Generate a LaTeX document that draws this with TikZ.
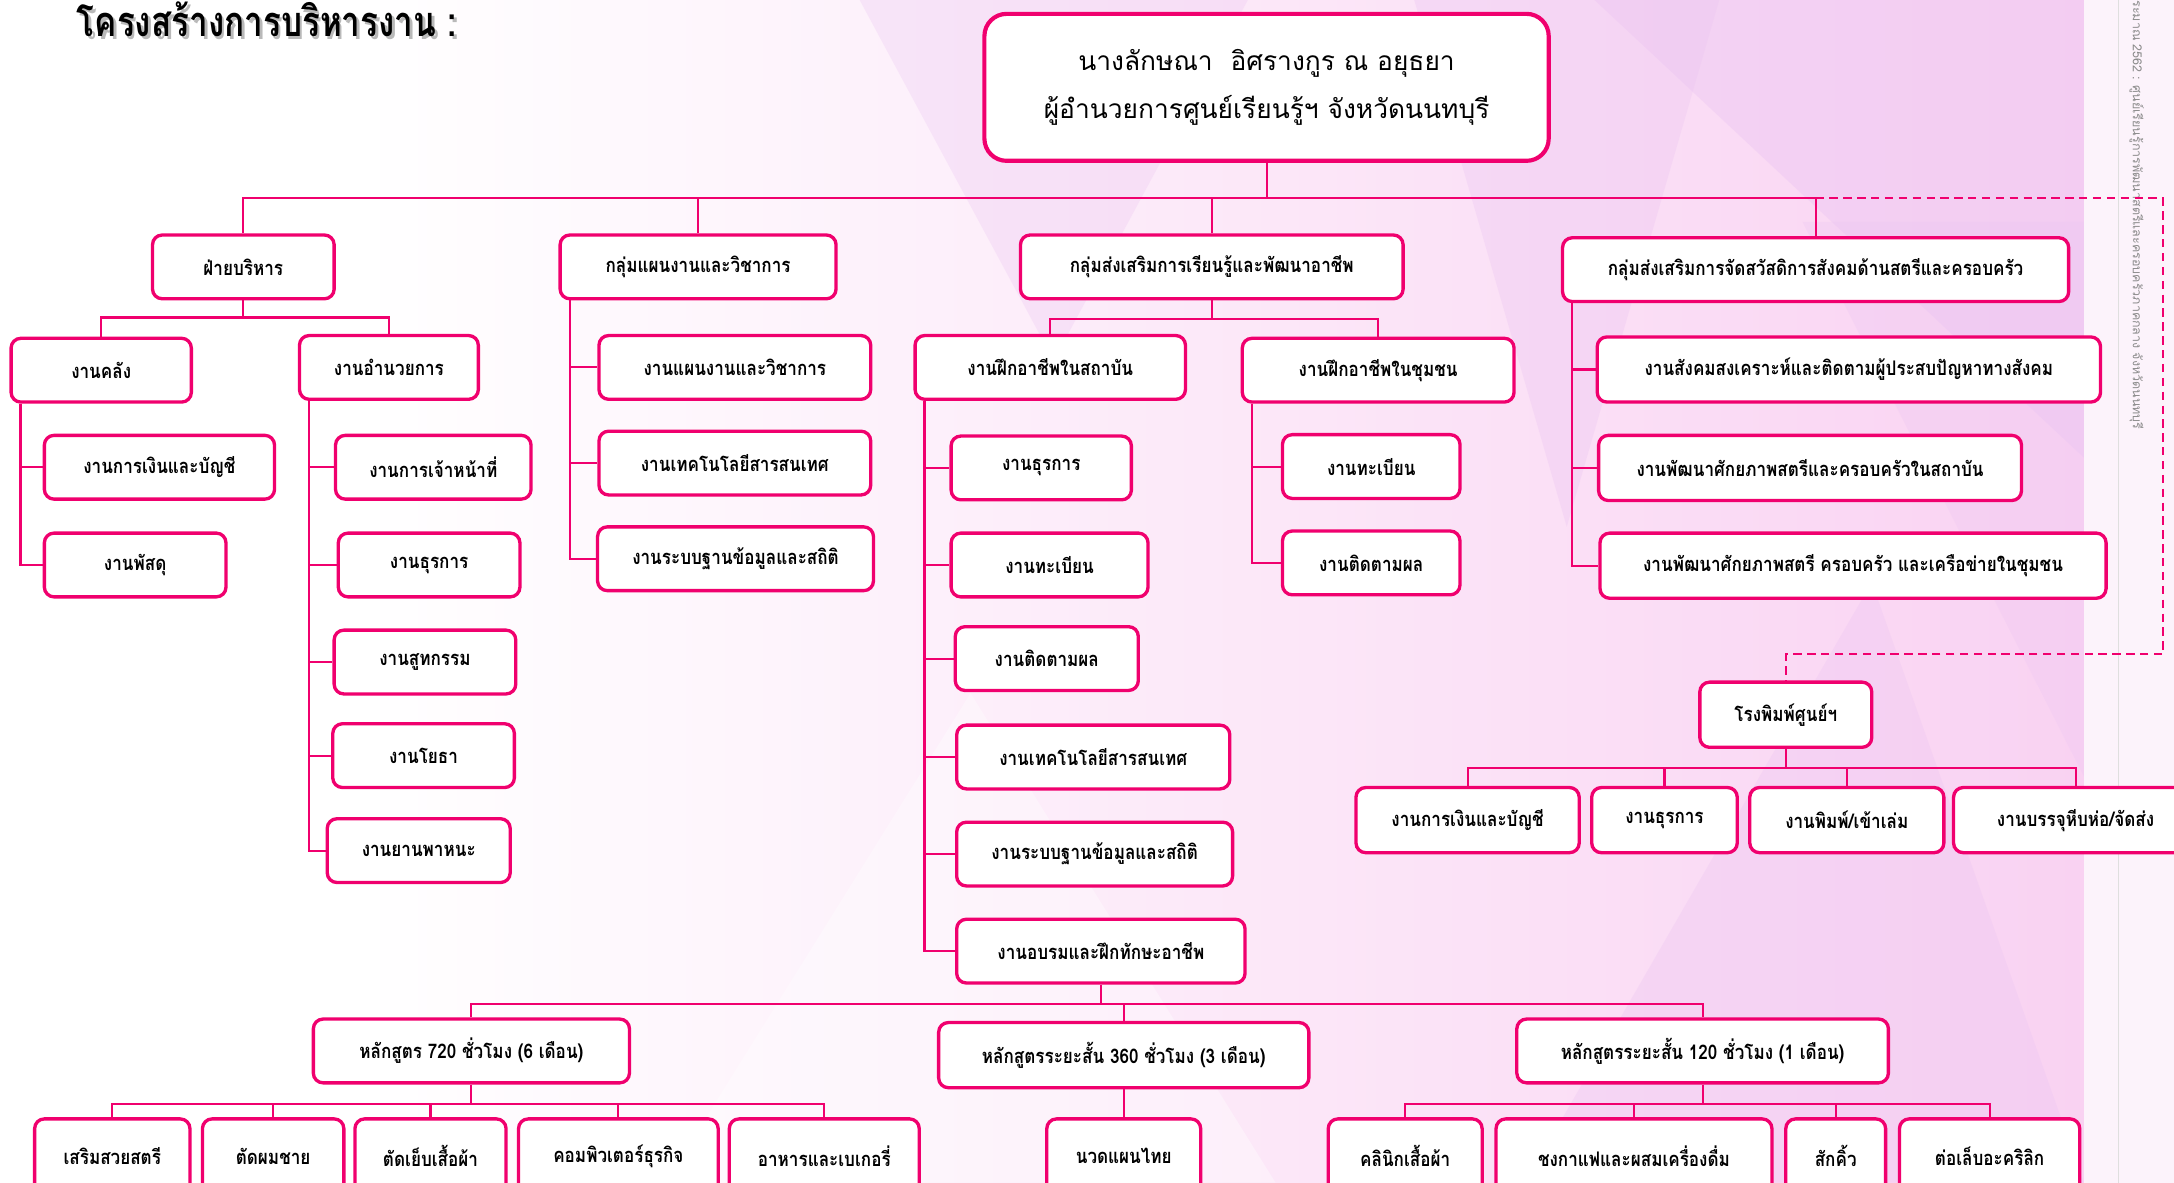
\documentclass[tikz,border=0pt]{standalone}
\usepackage{fontspec}
\setmainfont{Loma}[Script=Thai]
\newfontfamily\thaifont[Script=Thai]{Loma}
\newfontfamily\thaicond[Script=Thai,FakeStretch=0.85]{Loma}
\newfontfamily\thaititle[Script=Thai,FakeStretch=0.8]{Loma}
\usetikzlibrary{positioning}
\usepackage{xcolor}
\definecolor{orgpink}{RGB}{240,0,110}
\definecolor{bgpink}{RGB}{249,210,242}
\definecolor{bglilac}{RGB}{236,198,242}
\definecolor{marginpink}{RGB}{252,243,251}
\newcommand{\BoxFont}{\thaicond\bfseries\fontsize{14.5}{17}\selectfont}
\newcommand{\HeadFont}{\thaifont\fontsize{19}{34}\selectfont}
\newcommand{\TitleFont}{\thaititle\bfseries\fontsize{30}{34}\selectfont}
\newcommand{\SideFont}{\thaifont\fontsize{9}{10}\selectfont}

\begin{document}
\begin{tikzpicture}[x=1pt,y=-1pt,
  unit/.style={draw=orgpink, line width=2.4pt, rounded corners=7pt, fill=white,
    minimum height=46, inner sep=2pt, font=\BoxFont, text=black},
  course/.style={unit, minimum height=54},
  link/.style={draw=orgpink, line width=1.5pt},
  dashlink/.style={link, dashed, dash pattern=on 6pt off 4pt}]
  \useasboundingbox (0,0) rectangle (1568,853);

  % background
  \fill[white] (0,0) rectangle (1568,853);
  \shade[left color=white, right color=bgpink] (260,0) rectangle (1503,853);
  \fill[bglilac, opacity=.45] (1150,0) -- (1503,0) -- (1503,330) -- cycle;
  \fill[bglilac, opacity=.35] (1020,0) -- (1240,0) -- (1130,380) -- cycle;
  \fill[bglilac, opacity=.3] (1300,160) -- (1503,160) -- (1503,560) -- cycle;
  \fill[bglilac, opacity=.3] (620,0) -- (900,0) -- (760,260) -- cycle;
  \fill[bglilac, opacity=.35] (1100,853) -- (1350,420) -- (1503,853) -- cycle;
  \fill[white, opacity=.35] (480,853) -- (700,500) -- (920,853) -- cycle;
  \fill[marginpink] (1503,0) rectangle (1568,853);
  \draw[gray!25, line width=.8pt] (1528,0) -- (1528,853);
  \node[rotate=-90, anchor=east, font=\SideFont, text=gray!90, inner sep=0pt] (sidenote) at (1541,310)
    {รายงานประจำปีงบประมาณ 2562 : ศูนย์เรียนรู้การพัฒนาสตรีและครอบครัวภาคกลาง จังหวัดนนทบุรี};

  % title
  \node[anchor=west, font=\TitleFont, text=gray!55] (titleshade) at (54,16) {โครงสร้างการบริหารงาน :};
  \node[anchor=west, font=\TitleFont] (title) at (52,14) {โครงสร้างการบริหารงาน :};

  % director
  \node[unit, line width=3pt, rounded corners=16pt, minimum width=407, minimum height=106,
    font=\HeadFont, align=center] (head) at (913.5,63)
    {นางลักษณา\ \ อิศรางกูร ณ อยุธยา\\ผู้อำนวยการศูนย์เรียนรู้ฯ จังหวัดนนทบุรี};

  % level 1
  \node[unit, minimum width=131] (admin)   at (175.5,192.5) {ฝ่ายบริหาร};
  \node[unit, minimum width=199] (plan)    at (503.5,192.5) {กลุ่มแผนงานและวิชาการ};
  \node[unit, minimum width=276] (learn)   at (874,192.5)   {กลุ่มส่งเสริมการเรียนรู้และพัฒนาอาชีพ};
  \node[unit, minimum width=365] (welfare) at (1309.5,194.5) {กลุ่มส่งเสริมการจัดสวัสดิการสังคมด้านสตรีและครอบครัว};

  % admin
  \node[unit, minimum width=130] (treasury) at (73,267)    {งานคลัง};
  \node[unit, minimum width=129] (office)   at (280.5,265) {งานอำนวยการ};
  \node[unit, minimum width=166] (finance)  at (115,337)   {งานการเงินและบัญชี};
  \node[unit, minimum width=131] (supplies) at (97.5,407.5) {งานพัสดุ};
  \node[unit, minimum width=141] (staff)    at (312.5,337) {งานการเจ้าหน้าที่};
  \node[unit, minimum width=131] (clerical) at (309.5,407.5) {งานธุรการ};
  \node[unit, minimum width=131] (catering) at (306.5,477.5) {งานสูทกรรม};
  \node[unit, minimum width=131] (works)    at (305.5,545) {งานโยธา};
  \node[unit, minimum width=132] (vehicle)  at (302,613.5) {งานยานพาหนะ};

  % planning
  \node[unit, minimum width=196] (planwork) at (530,265)   {งานแผนงานและวิชาการ};
  \node[unit, minimum width=196] (planict)  at (530,334)   {งานเทคโนโลยีสารสนเทศ};
  \node[unit, minimum width=199] (plandata) at (530.5,403) {งานระบบฐานข้อมูลและสถิติ};

  % learning
  \node[unit, minimum width=195] (inst) at (757.5,265) {งานฝึกอาชีพในสถาบัน};
  \node[unit, minimum width=196] (comm) at (994,267)   {งานฝึกอาชีพในชุมชน};
  \node[unit, minimum width=130] (instclerk)  at (751,337.5) {งานธุรการ};
  \node[unit, minimum width=142] (instreg)    at (757,407.5) {งานทะเบียน};
  \node[unit, minimum width=132] (instfollow) at (755,475)   {งานติดตามผล};
  \node[unit, minimum width=197] (instict)    at (788.5,546) {งานเทคโนโลยีสารสนเทศ};
  \node[unit, minimum width=199] (instdata)   at (789.5,616) {งานระบบฐานข้อมูลและสถิติ};
  \node[unit, minimum width=208] (train)      at (794,686)   {งานอบรมและฝึกทักษะอาชีพ};
  \node[unit, minimum width=128] (commreg)    at (989,336.5) {งานทะเบียน};
  \node[unit, minimum width=128] (commfollow) at (989,406)   {งานติดตามผล};

  % welfare
  \node[unit, minimum width=363, minimum height=47] (social)  at (1333.5,266.5) {งานสังคมสงเคราะห์และติดตามผู้ประสบปัญหาทางสังคม};
  \node[unit, minimum width=305, minimum height=47] (instdev) at (1305.5,337.5) {งานพัฒนาศักยภาพสตรีและครอบครัวในสถาบัน};
  \node[unit, minimum width=365, minimum height=47] (commdev) at (1336.5,408)   {งานพัฒนาศักยภาพสตรี ครอบครัว และเครือข่ายในชุมชน};

  % printing house
  \node[unit, minimum width=124, minimum height=47] (press) at (1288,515.5) {โรงพิมพ์ศูนย์ฯ};
  \node[unit, minimum width=161, minimum height=47] (pressfin)   at (1058.5,591.5) {งานการเงินและบัญชี};
  \node[unit, minimum width=105, minimum height=47] (pressclerk) at (1200.5,591.5) {งานธุรการ};
  \node[unit, minimum width=140, minimum height=47] (pressbind)  at (1332,591.5)   {งานพิมพ์/เข้าเล่ม};
  \node[unit, minimum width=176, minimum height=47] (pressship)  at (1497,591.5)   {งานบรรจุหีบห่อ/จัดส่ง};

  % courses
  \node[unit, minimum width=228] (c720) at (340,758)   {หลักสูตร 720 ชั่วโมง (6 เดือน)};
  \node[unit, minimum width=267, minimum height=47] (c360) at (810.5,761) {หลักสูตรระยะสั้น 360 ชั่วโมง (3 เดือน)};
  \node[unit, minimum width=268] (c120) at (1228,758)  {หลักสูตรระยะสั้น 120 ชั่วโมง (1 เดือน)};
  \node[course, minimum width=112] (beauty)   at (81,834)    {เสริมสวยสตรี};
  \node[course, minimum width=102] (haircut)  at (197,834)   {ตัดผมชาย};
  \node[course, minimum width=109] (sewing)   at (310.5,834) {ตัดเย็บเสื้อผ้า};
  \node[course, minimum width=144] (computer) at (446,834)   {คอมพิวเตอร์ธุรกิจ};
  \node[course, minimum width=137] (bakery)   at (594.5,834) {อาหารและเบเกอรี่};
  \node[course, minimum width=111] (massage)  at (810.5,834) {นวดแผนไทย};
  \node[course, minimum width=111] (clinic)   at (1013.5,834) {คลินิกเสื้อผ้า};
  \node[course, minimum width=199] (coffee)   at (1178.5,834) {ชงกาแฟและผสมเครื่องดื่ม};
  \node[course, minimum width=72]  (brow)     at (1324,834)   {สักคิ้ว};
  \node[course, minimum width=130] (nail)     at (1435,834)   {ต่อเล็บอะคริลิก};

  % bus lines
  \coordinate (busA) at (0,143);
  \coordinate (busB) at (0,229);
  \coordinate (busF) at (0,230);
  \coordinate (busE) at (0,554);
  \coordinate (busC) at (0,724);
  \coordinate (busD) at (0,796);
  \coordinate (dashR) at (1560,472);

  \begin{scope}[on background layer/.try]
  \draw[link] (head.south) -- (head.south |- busA);
  \draw[link] (admin.north) -- (admin.north |- busA) -- (welfare.north |- busA) -- (welfare.north);
  \foreach \n in {plan,learn} \draw[link] (\n.north) -- (\n.north |- busA);
  \draw[dashlink] (welfare.north |- busA) -| (dashR) -| (press.north);

  \draw[link] (admin.south) -- (admin.south |- busB);
  \draw[link] (treasury.north) -- (treasury.north |- busB) -- (office.north |- busB) -- (office.north);
  \draw[link] (learn.south) -- (learn.south |- busF);
  \draw[link] (inst.north) -- (inst.north |- busF) -- (comm.north |- busF) -- (comm.north);

  % side trunks
  \foreach \p/\kids in {treasury/{finance,supplies},
                        office/{staff,clerical,catering,works,vehicle},
                        plan/{planwork,planict,plandata},
                        inst/{instclerk,instreg,instfollow,instict,instdata,train},
                        comm/{commreg,commfollow},
                        welfare/{social,instdev,commdev}}
    \foreach \k in \kids
      \draw[link] ([xshift=8pt]\p.south west) |- (\k.west);

  \draw[link] (press.south) -- (press.south |- busE);
  \draw[link] (pressfin.north) -- (pressfin.north |- busE) -- (pressship.north |- busE) -- (pressship.north);
  \foreach \n in {pressclerk,pressbind} \draw[link] (\n.north) -- (\n.north |- busE);

  \draw[link] (train.south) -- (train.south |- busC);
  \draw[link] (c720.north) -- (c720.north |- busC) -- (c120.north |- busC) -- (c120.north);
  \draw[link] (c360.north) -- (c360.north |- busC);

  \draw[link] (c720.south) -- (c720.south |- busD);
  \draw[link] (beauty.north) -- (beauty.north |- busD) -- (bakery.north |- busD) -- (bakery.north);
  \foreach \n in {haircut,sewing,computer} \draw[link] (\n.north) -- (\n.north |- busD);
  \draw[link] (c360.south) -- (massage.north);
  \draw[link] (c120.south) -- (c120.south |- busD);
  \draw[link] (clinic.north) -- (clinic.north |- busD) -- (nail.north |- busD) -- (nail.north);
  \foreach \n in {coffee,brow} \draw[link] (\n.north) -- (\n.north |- busD);
  \end{scope}
\end{tikzpicture}
\end{document}
